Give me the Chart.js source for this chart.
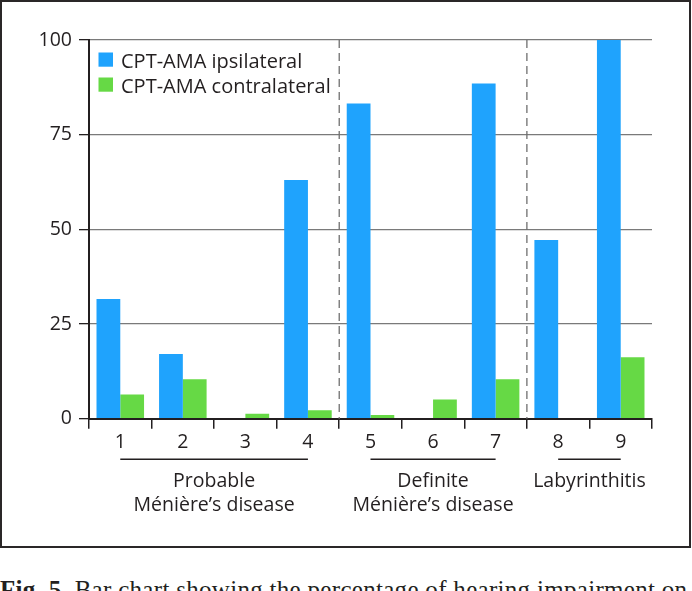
<!DOCTYPE html>
<html lang="en">
<head>
  <meta charset="UTF-8">
  <title>CPT-AMA hearing impairment</title>
  <script src="https://cdn.jsdelivr.net/npm/chart.js"></script>
  <style>
    body { margin: 0; background: #fff; width: 692px; height: 591px; overflow: hidden; position: relative; }
    .wrap { position: absolute; left: 0; top: 0; width: 692px; height: 548px; }
    .frame { position: absolute; left: 0; top: 0; width: 691px; height: 548px; box-sizing: border-box;
             border: 2px solid #2a2728; pointer-events: none; }
    .caption { position: absolute; left: 0; top: 577px; white-space: nowrap; line-height: 1;
               font-family: "Liberation Serif", serif; font-size: 25px; color: #231f20; letter-spacing: 0.3px; }
  </style>
</head>
<body>
  <div class="wrap"><canvas id="chart"></canvas></div>
  <div class="frame"></div>
  <div class="caption"><b>Fig. 5.</b> Bar chart showing the percentage of hearing impairment on</div>

  <script>
    // data (% of hearing impairment)
    const categories = ['1', '2', '3', '4', '5', '6', '7', '8', '9'];
    const ipsilateral = [31.6, 17.1, 0, 63.0, 83.2, 0, 88.5, 47.2, 100];
    const contralateral = [6.4, 10.4, 1.3, 2.2, 1.0, 5.1, 10.4, 0, 16.2];
    const seriesNames = ['CPT-AMA ipsilateral', 'CPT-AMA contralateral'];
    const yTicks = [0, 25, 50, 75, 100];

    // patient groups under the x axis
    const groupLabels = [['Probable', 'Ménière’s disease'], ['Definite', 'Ménière’s disease'], ['Labyrinthitis']];
    const groupStart = [0, 4, 7];
    const groupEnd = [3, 6, 8];

    const TEXT = '#231f20';
    const FONT = "'Open Sans', sans-serif";

    const groupPlugin = {
      id: 'groups',
      beforeDatasetsDraw(chart) {
        const { ctx, chartArea, scales: { x } } = chart;
        ctx.save();
        ctx.strokeStyle = '#6f6f6f';
        ctx.lineWidth = 1.3;
        ctx.setLineDash([8, 5]);
        for (let g = 0; g < groupStart.length - 1; g++) {
          const px = (x.getPixelForValue(groupEnd[g]) + x.getPixelForValue(groupStart[g + 1])) / 2;
          ctx.beginPath();
          ctx.moveTo(px, chartArea.top);
          ctx.lineTo(px, chartArea.bottom);
          ctx.stroke();
        }
        ctx.restore();
      },
      afterDraw(chart) {
        const { ctx, chartArea, scales: { x } } = chart;
        ctx.save();
        // group underlines and names
        ctx.strokeStyle = TEXT;
        ctx.lineWidth = 1.5;
        ctx.fillStyle = TEXT;
        ctx.font = '19.5px ' + FONT;
        ctx.textAlign = 'center';
        ctx.textBaseline = 'alphabetic';
        groupLabels.forEach((lines, g) => {
          const x0 = x.getPixelForValue(groupStart[g]);
          const x1 = x.getPixelForValue(groupEnd[g]);
          const ly = chartArea.bottom + 40.6;
          ctx.beginPath();
          ctx.moveTo(x0, ly);
          ctx.lineTo(x1, ly);
          ctx.stroke();
          lines.forEach((t, i) => ctx.fillText(t, (x0 + x1) / 2, chartArea.bottom + 68.6 + i * 23.4));
        });
        // legend inside the plot
        ctx.textAlign = 'left';
        ctx.font = '20px ' + FONT;
        chart.data.datasets.forEach((ds, i) => {
          const by = chartArea.top + 12.5 + i * 25;
          ctx.fillStyle = ds.backgroundColor;
          ctx.fillRect(chartArea.left + 9.5, by, 14.5, 14.2);
          ctx.fillStyle = TEXT;
          ctx.fillText(ds.label, chartArea.left + 32, by + 15);
        });
        ctx.restore();
      }
    };

    new Chart(document.getElementById('chart'), {
      type: 'bar',
      data: {
        labels: categories,
        datasets: [
          { label: seriesNames[0], data: ipsilateral, backgroundColor: '#1fa3fd', categoryPercentage: 0.76, barPercentage: 1.0 },
          { label: seriesNames[1], data: contralateral, backgroundColor: '#66d945', categoryPercentage: 0.76, barPercentage: 1.0 }
        ]
      },
      options: {
        responsive: true,
        maintainAspectRatio: false,
        animation: false,
        layout: { padding: { top: 40, right: 40, left: 0, bottom: 0 } },
        plugins: { legend: { display: false }, tooltip: { enabled: false } },
        scales: {
          x: {
            afterFit: (scale) => { scale.height = 129.3; },
            grid: { drawOnChartArea: false, drawTicks: true, tickLength: 10, tickColor: TEXT, lineWidth: 1.5 },
            border: { color: TEXT, width: 2 },
            ticks: { color: TEXT, font: { family: FONT, size: 19.5 }, padding: 2 }
          },
          y: {
            min: 0,
            max: 100,
            afterFit: (scale) => { scale.width = 89; },
            afterBuildTicks: (scale) => { scale.ticks = yTicks.map(v => ({ value: v })); },
            grid: { color: '#7a7a7a', lineWidth: 1.3, tickLength: 10, tickColor: TEXT },
            border: { color: TEXT, width: 2 },
            ticks: { color: TEXT, font: { family: FONT, size: 19.5 }, padding: 7 }
          }
        }
      },
      plugins: [groupPlugin]
    });
  </script>
</body>
</html>
